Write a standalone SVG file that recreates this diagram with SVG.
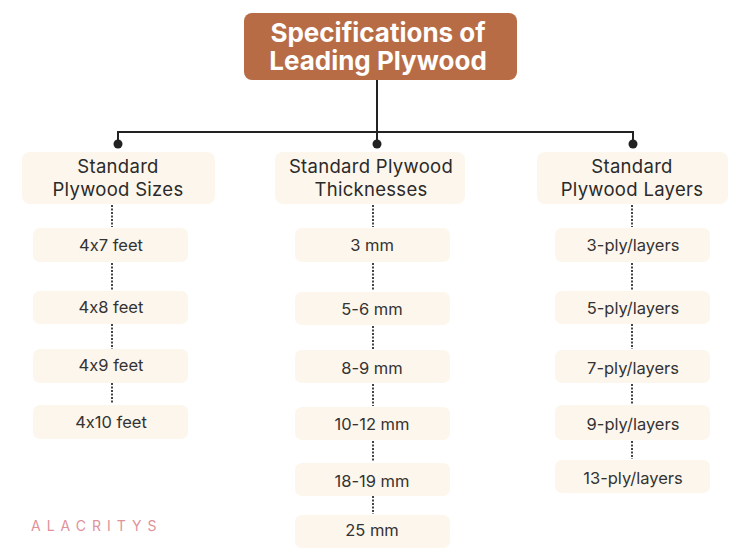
<svg xmlns="http://www.w3.org/2000/svg" width="750" height="550" viewBox="0 0 750 550">
<style>
.bg{fill:#ffffff}
.title{fill:#B86C46}
.ttl{font-family:Inter,"Liberation Sans",sans-serif;font-weight:700;font-size:26px;fill:#ffffff;text-anchor:middle}
.hd{fill:#FDF6EC}
.hdt{font-family:Inter,"Liberation Sans",sans-serif;font-size:18.5px;fill:#2a2a2a;text-anchor:middle;letter-spacing:0.3px}
.it{fill:#FDF6EC}
.itt{font-family:Inter,"Liberation Sans",sans-serif;font-size:16.5px;fill:#333333;text-anchor:middle;font-feature-settings:"calt" 0}
.ln{stroke:#222222;stroke-width:2;fill:none}
.dot{stroke:#444444;stroke-width:2;stroke-dasharray:2 1.5;fill:none}
.brand{font-family:Inter,"Liberation Sans",sans-serif;font-size:14px;fill:#E0929A;letter-spacing:6px}
</style>
<rect class="bg" x="0" y="0" width="750" height="550"/>
<g id="connectors">
<path class="ln" d="M377 80 V132 M118 132 H633 M118 131 V144 M377 131 V144 M633 131 V144"/>
<circle cx="118" cy="144" r="4.5" fill="#222"/>
<circle cx="377" cy="144" r="4.5" fill="#222"/>
<circle cx="633" cy="144" r="4.5" fill="#222"/>
<path class="dot" d="M112 205 V227 M112 263 V291 M112 324 V349 M112 383 V404"/>
<path class="dot" d="M373 205 V227 M373 263 V291 M373 326 V349 M373 384 V406 M373 441 V462 M373 496 V514"/>
<path class="dot" d="M632 205 V227 M632 263 V291 M632 324 V349 M632 384 V404 M632 441 V459"/>
</g>
<g id="title">
<rect class="title" x="244" y="13" width="273" height="67" rx="8"/>
<text class="ttl" x="378" y="42">Specifications of</text>
<text class="ttl" x="378" y="70">Leading Plywood</text>
</g>
<g id="h-sizes">
<rect class="hd" x="22" y="152" width="193" height="52" rx="8"/>
<text class="hdt" x="118" y="173">Standard</text>
<text class="hdt" x="118" y="196">Plywood Sizes</text>
</g>
<g id="h-thick">
<rect class="hd" x="275" y="152" width="190" height="52" rx="8"/>
<text class="hdt" x="371" y="173">Standard Plywood</text>
<text class="hdt" x="371" y="196">Thicknesses</text>
</g>
<g id="h-layers">
<rect class="hd" x="537" y="152" width="191" height="52" rx="8"/>
<text class="hdt" x="632" y="173">Standard</text>
<text class="hdt" x="632" y="196">Plywood Layers</text>
</g>
<g id="s1"><rect class="it" x="33" y="228" width="155" height="34" rx="7"/><text class="itt" x="111" y="251">4x7 feet</text></g>
<g id="s2"><rect class="it" x="33" y="291" width="155" height="33" rx="7"/><text class="itt" x="111" y="313">4x8 feet</text></g>
<g id="s3"><rect class="it" x="33" y="349" width="155" height="34" rx="7"/><text class="itt" x="111" y="371">4x9 feet</text></g>
<g id="s4"><rect class="it" x="33" y="405" width="155" height="34" rx="7"/><text class="itt" x="111" y="428">4x10 feet</text></g>
<g id="t1"><rect class="it" x="295" y="228" width="155" height="34" rx="7"/><text class="itt" x="372" y="251">3 mm</text></g>
<g id="t2"><rect class="it" x="295" y="292" width="155" height="33" rx="7"/><text class="itt" x="372" y="315">5-6 mm</text></g>
<g id="t3"><rect class="it" x="295" y="350" width="155" height="33" rx="7"/><text class="itt" x="372" y="374">8-9 mm</text></g>
<g id="t4"><rect class="it" x="295" y="407" width="155" height="33" rx="7"/><text class="itt" x="372" y="430">10-12 mm</text></g>
<g id="t5"><rect class="it" x="295" y="463" width="155" height="33" rx="7"/><text class="itt" x="372" y="487">18-19 mm</text></g>
<g id="t6"><rect class="it" x="295" y="515" width="155" height="33" rx="7"/><text class="itt" x="372" y="536">25 mm</text></g>
<g id="l1"><rect class="it" x="555" y="228" width="155" height="34" rx="7"/><text class="itt" x="633" y="251">3-ply/layers</text></g>
<g id="l2"><rect class="it" x="555" y="291" width="155" height="33" rx="7"/><text class="itt" x="633" y="314">5-ply/layers</text></g>
<g id="l3"><rect class="it" x="555" y="350" width="155" height="33" rx="7"/><text class="itt" x="633" y="374">7-ply/layers</text></g>
<g id="l4"><rect class="it" x="555" y="405" width="155" height="35" rx="7"/><text class="itt" x="633" y="430">9-ply/layers</text></g>
<g id="l5"><rect class="it" x="555" y="460" width="155" height="33" rx="7"/><text class="itt" x="633" y="484">13-ply/layers</text></g>
<text class="brand" x="31" y="531">ALACRITYS</text>
</svg>
